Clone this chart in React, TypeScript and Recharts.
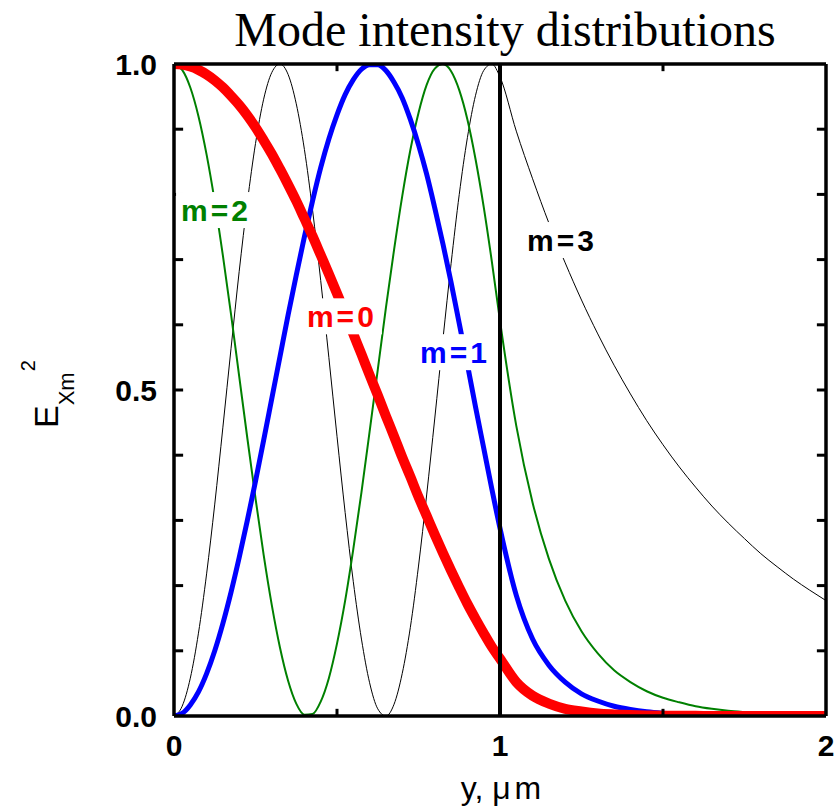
import {
  LineChart,
  Line,
  XAxis,
  YAxis,
  ReferenceLine,
  ReferenceDot,
} from "recharts";

// positions across the guide, y in micrometres (core 0..1, cladding 1..2)
const yPos = [
  0, 0.025, 0.05, 0.075, 0.1, 0.125, 0.15, 0.175, 0.2, 0.225, 0.25, 0.275,
  0.3, 0.325, 0.35, 0.375, 0.4, 0.425, 0.45, 0.475, 0.5, 0.525, 0.55, 0.575,
  0.6, 0.625, 0.65, 0.675, 0.7, 0.725, 0.75, 0.775, 0.8, 0.825, 0.85, 0.875,
  0.9, 0.925, 0.95, 0.975, 1.0,
  1.05, 1.1, 1.15, 1.2, 1.25, 1.3, 1.35, 1.4, 1.45, 1.5, 1.55, 1.6, 1.65,
  1.7, 1.75, 1.8, 1.85, 1.9, 1.95, 2.0,
];

const m0 = [
  1, 0.999, 0.996, 0.991, 0.984, 0.975, 0.964, 0.951, 0.937, 0.921, 0.903,
  0.883, 0.862, 0.839, 0.815, 0.79, 0.763, 0.736, 0.707, 0.678, 0.648, 0.618,
  0.586, 0.555, 0.523, 0.492, 0.46, 0.429, 0.397, 0.367, 0.336, 0.307, 0.278,
  0.25, 0.223, 0.197, 0.172, 0.149, 0.127, 0.106, 0.088,
  0.052, 0.031, 0.019, 0.011, 0.007, 0.004, 0.0025, 0.0015, 0.0009, 0.0005,
  0.0003, 0.0002, 0.0001, 0.0001, 0, 0, 0, 0, 0, 0,
];

const m1 = [
  0, 0.004, 0.017, 0.037, 0.065, 0.1, 0.142, 0.19, 0.243, 0.3, 0.36, 0.423,
  0.487, 0.551, 0.615, 0.676, 0.735, 0.79, 0.841, 0.885, 0.922, 0.953, 0.976,
  0.992, 0.999, 0.999, 0.99, 0.972, 0.948, 0.915, 0.876, 0.831, 0.779, 0.724,
  0.665, 0.602, 0.539, 0.474, 0.411, 0.348, 0.288,
  0.185, 0.118, 0.078, 0.052, 0.034, 0.023, 0.015, 0.01, 0.0065, 0.0043,
  0.0028, 0.0019, 0.0012, 0.0008, 0.0005, 0.0004, 0.0003, 0.0002, 0.0001,
  0.0001,
];

const m2 = [
  1, 0.991, 0.964, 0.92, 0.861, 0.789, 0.706, 0.616, 0.521, 0.426, 0.334,
  0.247, 0.17, 0.105, 0.054, 0.019, 0.002, 0.003, 0.022, 0.058, 0.111, 0.177,
  0.256, 0.343, 0.436, 0.531, 0.626, 0.715, 0.797, 0.868, 0.925, 0.968, 0.993,
  1.0, 0.989, 0.96, 0.915, 0.854, 0.781, 0.697, 0.606,
  0.445, 0.327, 0.241, 0.177, 0.13, 0.096, 0.07, 0.052, 0.038, 0.028, 0.021,
  0.015, 0.011, 0.008, 0.006, 0.0044, 0.0033, 0.0024, 0.0018, 0.0013,
];

const m3 = [
  0, 0.015, 0.058, 0.127, 0.218, 0.325, 0.443, 0.564, 0.682, 0.788, 0.878,
  0.946, 0.987, 1.0, 0.984, 0.939, 0.869, 0.776, 0.668, 0.55, 0.429, 0.312,
  0.206, 0.118, 0.051, 0.011, 0, 0.018, 0.065, 0.136, 0.23, 0.339, 0.457,
  0.578, 0.694, 0.8, 0.887, 0.952, 0.99, 1.0, 0.98,
  0.897, 0.824, 0.756, 0.695, 0.638, 0.586, 0.538, 0.494, 0.453, 0.416, 0.382,
  0.351, 0.322, 0.296, 0.272, 0.249, 0.229, 0.21, 0.193, 0.177,
];

const xLabelTicks = [0, 1, 2];
const xMinorTicks = [0.5, 1.5];
const yLabelTicks = [0, 0.5, 1];
const yMinorTicks = [0.1, 0.2, 0.3, 0.4, 0.5, 0.6, 0.7, 0.8, 0.9];

// curve tags: text, colour, anchor (y, intensity)
const tags = [
  { text: "m=2", color: "#008000", x: 0.129, v: 0.776 },
  { text: "m=0", color: "#ff0000", x: 0.515, v: 0.613 },
  { text: "m=1", color: "#0000ff", x: 0.862, v: 0.558 },
  { text: "m=3", color: "#000000", x: 1.19, v: 0.73 },
];

const data = yPos.map((y, i) => ({
  y,
  m0: m0[i],
  m1: m1[i],
  m2: m2[i],
  m3: m3[i],
}));

const sans = '"Liberation Sans", Arial, sans-serif';
const serif = '"Liberation Serif", "Times New Roman", serif';

const tickFont = {
  fontFamily: sans,
  fontSize: 30,
  fontWeight: 700,
  fill: "#000",
};

// inward tick lengths, in axis units
const yTickLen = 0.028;
const xTickLen = 0.011;

function CurveTag(props: any) {
  const { viewBox, text, color } = props;
  const cx = viewBox.x + viewBox.width / 2;
  const cy = viewBox.y + viewBox.height / 2;
  return (
    <g>
      <rect x={cx - 40} y={cy - 18} width={80} height={36} fill="#fff" />
      <text
        x={cx}
        y={cy + 11}
        textAnchor="middle"
        fontFamily={sans}
        fontSize={30}
        fontWeight={700}
        letterSpacing={3}
        fill={color}
      >
        {text}
      </text>
    </g>
  );
}

export default function App() {
  return (
    <div style={{ position: "absolute", left: 0, top: 0, width: 836, height: 809 }}>
      <LineChart
        width={836}
        height={809}
        data={data}
        margin={{ top: 64, right: 10, bottom: 63, left: 114 }}
      >
        <XAxis
          xAxisId="main"
          dataKey="y"
          type="number"
          domain={[0, 2]}
          ticks={xLabelTicks}
          tickFormatter={(v) => String(v)}
          tickLine={false}
          tickSize={0}
          tickMargin={19}
          axisLine={{ stroke: "#000", strokeWidth: 3.5 }}
          tick={tickFont}
          height={30}
          allowDataOverflow
        />
        <XAxis
          xAxisId="top"
          orientation="top"
          type="number"
          domain={[0, 2]}
          ticks={[]}
          mirror
          tick={false}
          tickLine={false}
          axisLine={{ stroke: "#000", strokeWidth: 3.5 }}
          allowDataOverflow
        />
        <YAxis
          yAxisId="main"
          type="number"
          domain={[0, 1]}
          ticks={yLabelTicks}
          tickFormatter={(v) => Number(v).toFixed(1)}
          tickLine={false}
          tickSize={0}
          tickMargin={17}
          axisLine={{ stroke: "#000", strokeWidth: 3.5 }}
          tick={tickFont}
          width={60}
          allowDataOverflow
        />
        <YAxis
          yAxisId="right"
          orientation="right"
          type="number"
          domain={[0, 1]}
          ticks={[]}
          mirror
          tick={false}
          tickLine={false}
          axisLine={{ stroke: "#000", strokeWidth: 3.5 }}
          allowDataOverflow
        />

        <Line
          xAxisId="main"
          yAxisId="main"
          type="monotone"
          dataKey="m3"
          stroke="#000"
          strokeWidth={1}
          dot={false}
          activeDot={false}
          isAnimationActive={false}
        />
        <Line
          xAxisId="main"
          yAxisId="main"
          type="monotone"
          dataKey="m2"
          stroke="#008000"
          strokeWidth={2}
          dot={false}
          activeDot={false}
          isAnimationActive={false}
        />
        <Line
          xAxisId="main"
          yAxisId="main"
          type="monotone"
          dataKey="m1"
          stroke="#0000ff"
          strokeWidth={5}
          dot={false}
          activeDot={false}
          isAnimationActive={false}
        />
        <Line
          xAxisId="main"
          yAxisId="main"
          type="monotone"
          dataKey="m0"
          stroke="#ff0000"
          strokeWidth={10}
          dot={false}
          activeDot={false}
          isAnimationActive={false}
        />

        {/* core / cladding boundary */}
        <ReferenceLine
          xAxisId="main"
          yAxisId="main"
          x={1}
          stroke="#000"
          strokeWidth={4}
        />

        {/* inward minor ticks on all four sides */}
        {yMinorTicks.map((t) => (
          <ReferenceLine
            key={"l" + t}
            xAxisId="main"
            yAxisId="main"
            segment={[{ x: 0, y: t }, { x: yTickLen, y: t }]}
            stroke="#000"
            strokeWidth={3}
          />
        ))}
        {yMinorTicks.map((t) => (
          <ReferenceLine
            key={"r" + t}
            xAxisId="main"
            yAxisId="main"
            segment={[{ x: 2, y: t }, { x: 2 - yTickLen, y: t }]}
            stroke="#000"
            strokeWidth={3}
          />
        ))}
        {xMinorTicks.map((t) => (
          <ReferenceLine
            key={"b" + t}
            xAxisId="main"
            yAxisId="main"
            segment={[{ x: t, y: 0 }, { x: t, y: xTickLen }]}
            stroke="#000"
            strokeWidth={3}
          />
        ))}
        {xMinorTicks.map((t) => (
          <ReferenceLine
            key={"t" + t}
            xAxisId="main"
            yAxisId="main"
            segment={[{ x: t, y: 1 }, { x: t, y: 1 - xTickLen }]}
            stroke="#000"
            strokeWidth={3}
          />
        ))}

        {tags.map((t) => (
          <ReferenceDot
            key={t.text}
            xAxisId="main"
            yAxisId="main"
            x={t.x}
            y={t.v}
            r={0}
            fill="none"
            stroke="none"
            label={<CurveTag text={t.text} color={t.color} />}
          />
        ))}
      </LineChart>

      {/* title and axis titles */}
      <svg
        width={836}
        height={809}
        style={{ position: "absolute", left: 0, top: 0, pointerEvents: "none" }}
      >
        <text
          x={505}
          y={46}
          textAnchor="middle"
          fontFamily={serif}
          fontSize={48}
          fill="#000"
        >
          Mode intensity distributions
        </text>
        <text
          x={501}
          y={799}
          textAnchor="middle"
          fontFamily={sans}
          fontSize={32}
          fill="#000"
        >
          y, μ<tspan dx={4}>m</tspan>
        </text>
        <text
          transform="translate(58,428) rotate(-90)"
          fontFamily={sans}
          fontSize={34}
          fill="#000"
        >
          E
          <tspan fontSize={22} dy={16}>
            Xm
          </tspan>
          <tspan fontSize={20} dy={-39} dx={1}>
            2
          </tspan>
        </text>
      </svg>
    </div>
  );
}
